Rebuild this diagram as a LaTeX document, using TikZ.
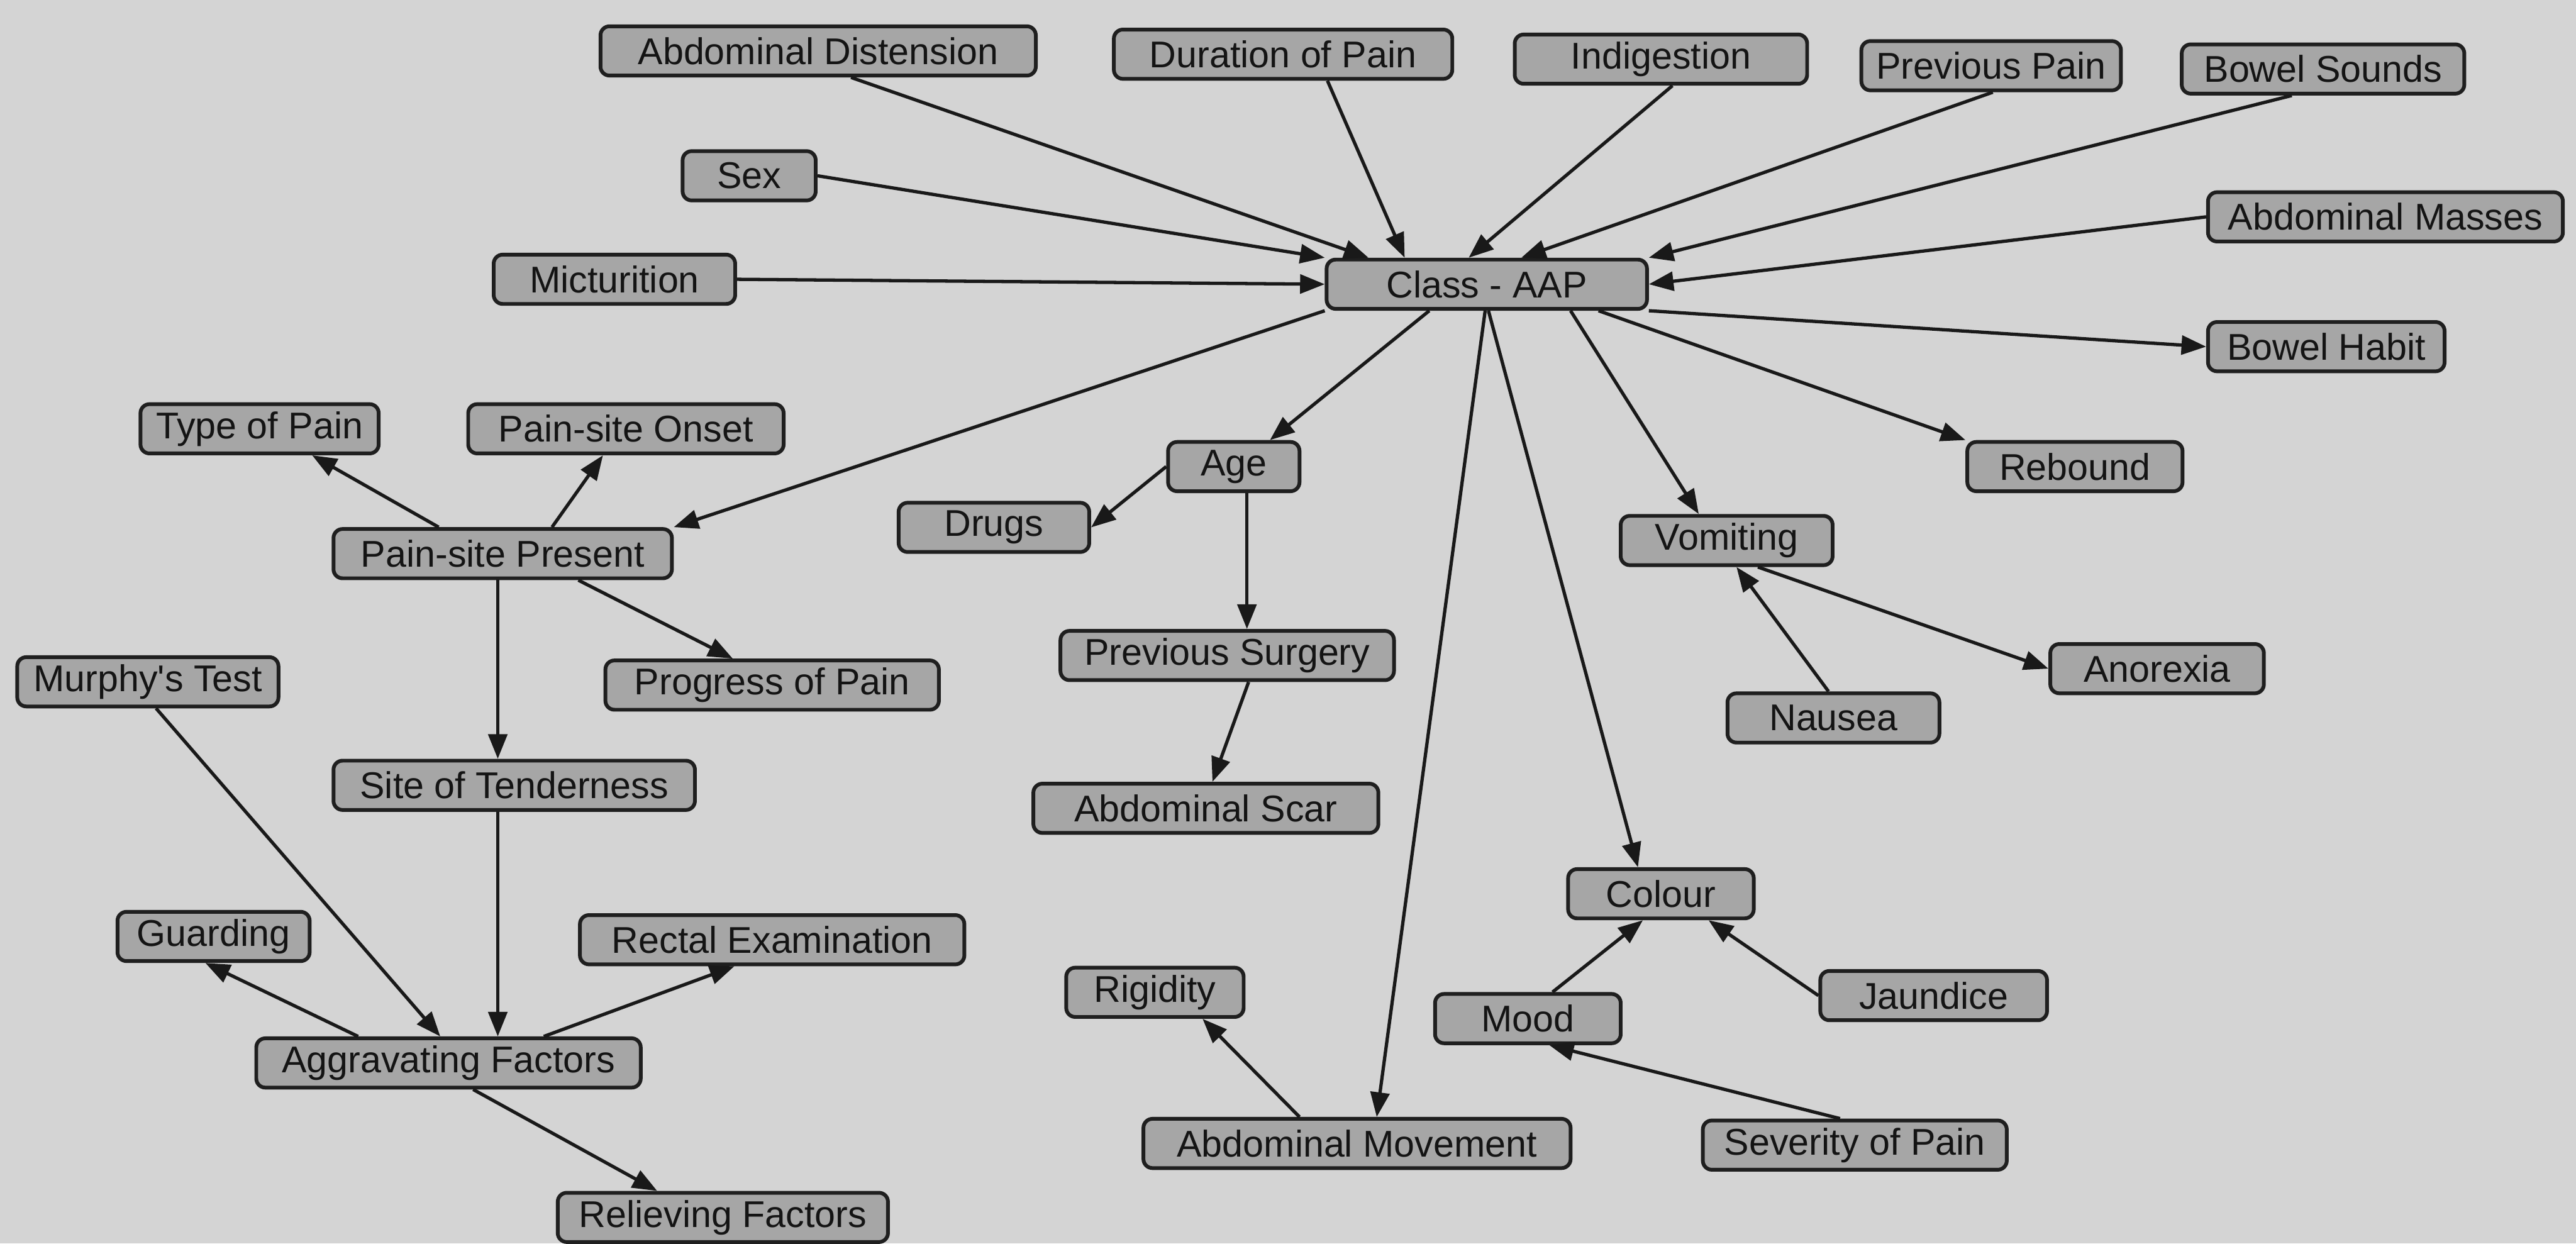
\documentclass[tikz,border=0pt]{standalone}
\usepackage{fontspec}
\setmainfont{Liberation Sans}[Ligatures=TeXOff]
\usetikzlibrary{arrows.meta,calc}

\begin{document}
\begin{tikzpicture}[x=0.02cm,y=-0.02cm,>={Triangle[length=0.3cm,width=0.23cm]},
  box/.style={draw=black!88,line width=1.3pt,fill=black!35,rounded corners=0.11cm,
    minimum height=0.6cm,inner sep=0pt,text=black!92,font=\fontsize{12.9}{15}\selectfont},
  wd/.style={minimum width=#1*0.02cm},
  lnk/.style={->,line width=1.15pt,draw=black!90}]

  % Background
  \fill[black!17] (0,0) rectangle (1568,757);
  \useasboundingbox (0,0) rectangle (1568,757);

  % Class node
  \node[box,wd=195] (cls) at (905,173) {Class - AAP};

  % Top row
  \node[box,wd=265] (adist) at (498,31) {Abdominal Distension};
  \node[box,wd=206] (dur) at (781,33) {Duration of Pain};
  \node[box,wd=178] (indig) at (1011,36) {Indigestion};
  \node[box,wd=158] (ppain) at (1212,40) {Previous Pain};
  \node[box,wd=172] (bsnd) at (1414,42) {Bowel Sounds};
  \node[box,wd=81] (sex) at (456,107) {Sex};
  \node[box,wd=216] (amass) at (1452,132) {Abdominal Masses};
  \node[box,wd=147] (mict) at (374,170) {Micturition};
  \node[box,wd=144] (bhab) at (1416,211) {Bowel Habit};

  % Left cluster
  \node[box,wd=145] (tpain) at (158,261) {Type of Pain};
  \node[box,wd=192] (onset) at (381,261) {Pain-site Onset};
  \node[box,wd=206] (psp) at (306,337) {Pain-site Present};
  \node[box,wd=159] (murph) at (90,415) {Murphy's Test};
  \node[box,wd=203] (prog) at (470,417) {Progress of Pain};
  \node[box,wd=220] (sot) at (313,478) {Site of Tenderness};
  \node[box,wd=117] (guard) at (130,570) {Guarding};
  \node[box,wd=234] (rect) at (470,572) {Rectal Examination};
  \node[box,wd=234] (aggr) at (273,647) {Aggravating Factors};
  \node[box,wd=201] (relv) at (440,741) {Relieving Factors};

  % Middle
  \node[box,wd=80] (age) at (751,284) {Age};
  \node[box,wd=116] (drugs) at (605,321) {Drugs};
  \node[box,wd=203] (psurg) at (747,399) {Previous Surgery};
  \node[box,wd=210] (ascar) at (734,492) {Abdominal Scar};
  \node[box,wd=108] (rigid) at (703,604) {Rigidity};
  \node[box,wd=260] (amove) at (826,696) {Abdominal Movement};

  % Right cluster
  \node[box,wd=131] (rebnd) at (1263,284) {Rebound};
  \node[box,wd=129] (vomit) at (1051,329) {Vomiting};
  \node[box,wd=130] (anor) at (1313,407) {Anorexia};
  \node[box,wd=129] (naus) at (1116,437) {Nausea};
  \node[box,wd=113] (colr) at (1011,544) {Colour};
  \node[box,wd=138] (jaund) at (1177,606) {Jaundice};
  \node[box,wd=113] (mood) at (930,620) {Mood};
  \node[box,wd=185] (sevp) at (1129,697) {Severity of Pain};

  % Links into the class node
  \draw[lnk] ($(adist.south)+(20,0)$) -- ($(cls.north)+(-72,0)$);
  \draw[lnk] ($(dur.south)+(27,0)$) -- ($(cls.north)+(-50,0)$);
  \draw[lnk] ($(indig.south)+(7,0)$) -- ($(cls.north)+(-11,0)$);
  \draw[lnk] ($(ppain.south)+(1,0)$) -- ($(cls.north)+(21,0)$);
  \draw[lnk] ($(bsnd.south)+(-19,0)$) -- (cls.north east);
  \draw[lnk] (sex.east) -- (cls.north west);
  \draw[lnk] (amass.west) -- (cls.east);
  \draw[lnk] (mict.east) -- (cls.west);

  % Links out of the class node
  \draw[lnk] (cls.south east) -- (bhab.west);
  \draw[lnk] ($(cls.south)+(68,0)$) -- (rebnd.north west);
  \draw[lnk] ($(cls.south)+(51,0)$) -- ($(vomit.north)+(-17,0)$);
  \draw[lnk] ($(cls.south)+(1,0)$) -- ($(colr.north)+(-14,0)$);
  \draw[lnk] ($(cls.south)+(-1,0)$) -- ($(amove.north)+(12,0)$);
  \draw[lnk] ($(cls.south)+(-35,0)$) -- ($(age.north)+(22,0)$);
  \draw[lnk] (cls.south west) -- (psp.north east);

  % Middle links
  \draw[lnk] (age.west) -- (drugs.east);
  \draw[lnk] ($(age.south)+(8,0)$) -- ($(psurg.north)+(12,0)$);
  \draw[lnk] ($(psurg.south)+(13,0)$) -- ($(ascar.north)+(4,0)$);
  \draw[lnk] ($(amove.north)+(-35,0)$) -- ($(rigid.south)+(29,0)$);

  % Right links
  \draw[lnk] ($(vomit.south)+(19,0)$) -- (anor.west);
  \draw[lnk] ($(naus.north)+(-3,0)$) -- ($(vomit.south)+(6,0)$);
  \draw[lnk] ($(mood.north)+(15,0)$) -- ($(colr.south)+(-11,0)$);
  \draw[lnk] (jaund.west) -- ($(colr.south)+(29,0)$);
  \draw[lnk] ($(sevp.north)+(-9,0)$) -- ($(mood.south)+(13,0)$);

  % Left links
  \draw[lnk] ($(psp.north)+(-39,0)$) -- ($(tpain.south)+(32,0)$);
  \draw[lnk] ($(psp.north)+(30,0)$) -- ($(onset.south)+(-14,0)$);
  \draw[lnk] ($(psp.south)+(46,0)$) -- ($(prog.north)+(-24,0)$);
  \draw[lnk] ($(psp.south)+(-3,0)$) -- ($(sot.north)+(-10,0)$);
  \draw[lnk] ($(sot.south)+(-10,0)$) -- ($(aggr.north)+(30,0)$);
  \draw[lnk] ($(murph.south)+(5,0)$) -- ($(aggr.north)+(-5,0)$);
  \draw[lnk] ($(aggr.north)+(-55,0)$) -- ($(guard.south)+(-5,0)$);
  \draw[lnk] ($(aggr.north)+(58,0)$) -- ($(rect.south)+(-23,0)$);
  \draw[lnk] ($(aggr.south)+(15,0)$) -- ($(relv.north)+(-40,0)$);
\end{tikzpicture}
\end{document}
